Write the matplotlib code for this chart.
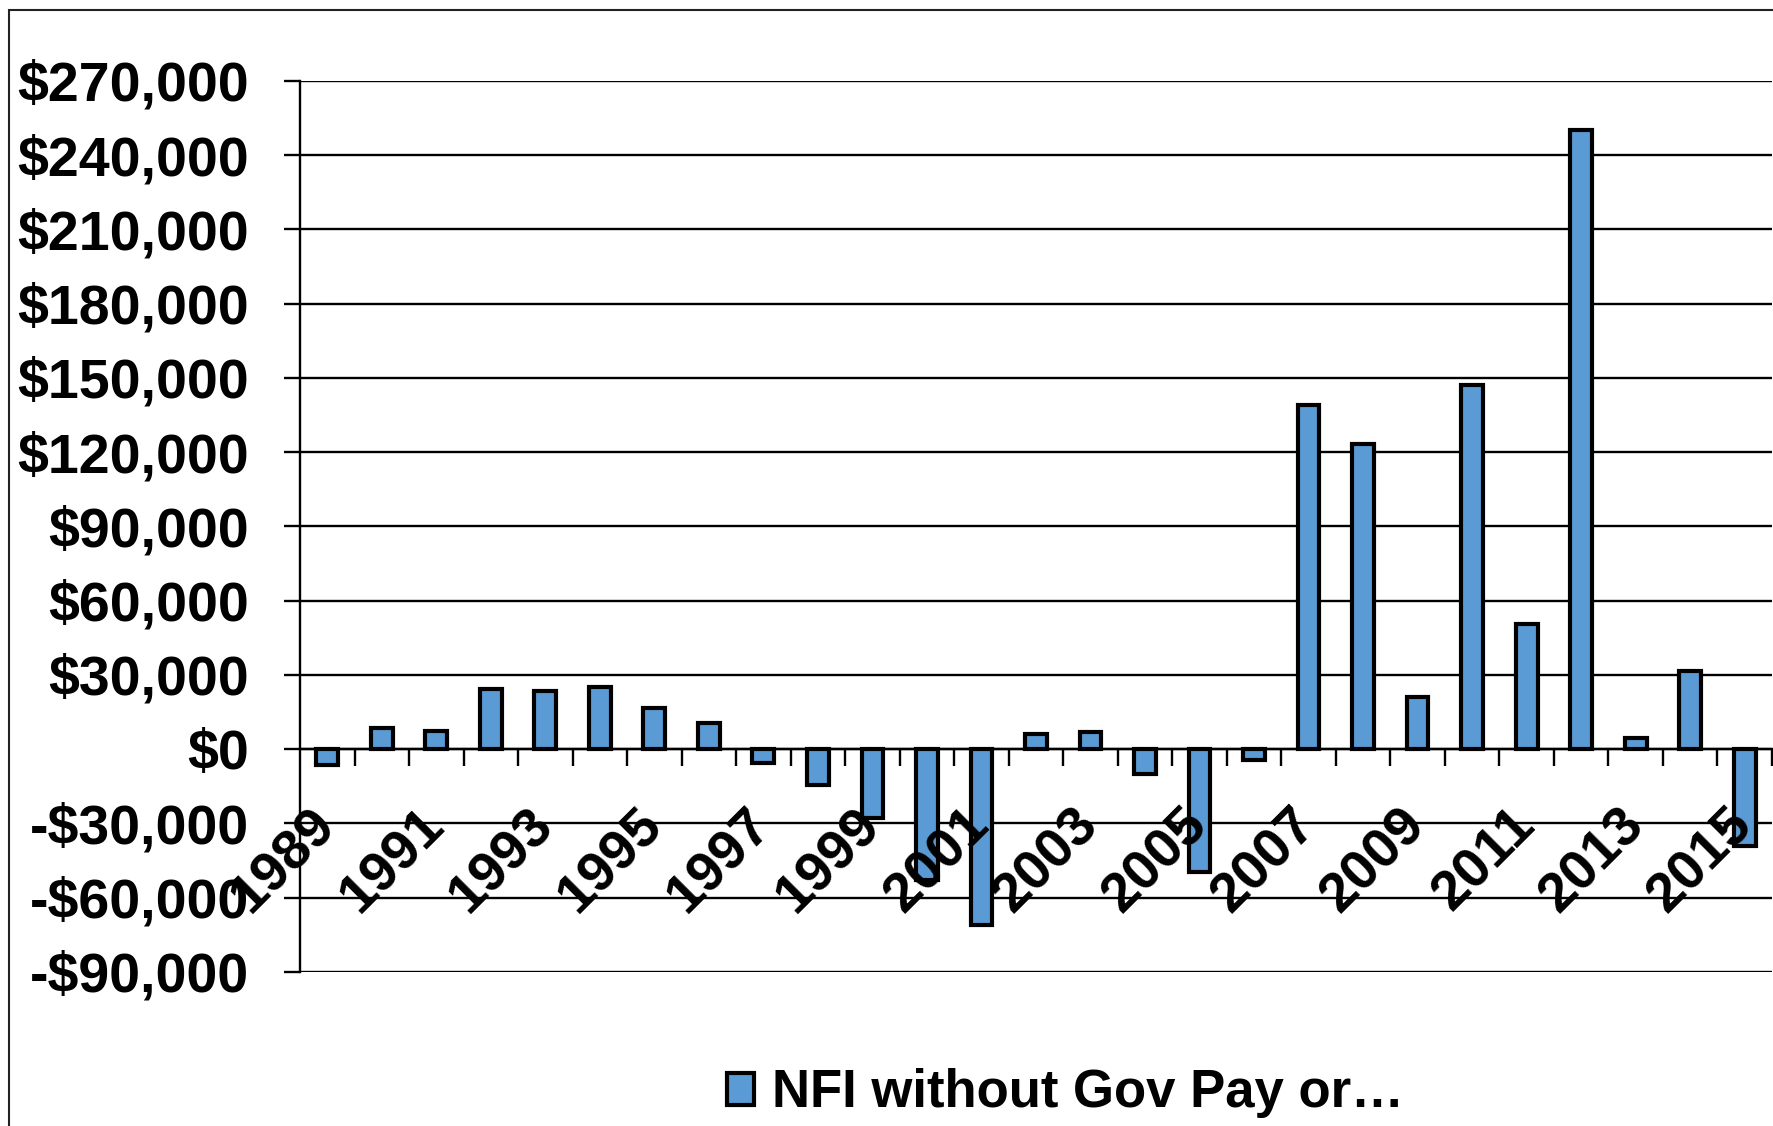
import matplotlib.pyplot as plt
from matplotlib.patches import Rectangle
from matplotlib.ticker import FuncFormatter, FixedLocator

# NFI without government payments, by year
years = list(range(1989, 2016))
values = [-6300, 8700, 7300, 24200, 23400, 25000, 16800, 10500, -5600,
          -14500, -27600, -52800, -70900, 6200, 7000, -10000, -49500, -4200,
          138900, 123300, 20900, 147200, 50500, 250300, 4600, 31500, -39300]
y_ticks = list(range(-90000, 270001, 30000))
series_name = "NFI without Gov Pay or…"

plt.rcParams['font.family'] = ['Liberation Sans', 'DejaVu Sans']
plt.rcParams['font.weight'] = 'bold'

fig = plt.figure(figsize=(17.73, 11.26), dpi=100)
ax = fig.add_axes([0.1692, 0.1368, 0.8302, 0.7913])

# outer chart frame (only top and left edges are inside the image)
fig.patches.append(Rectangle((9 / 1773, -0.1), 1.2, 1.1 - 10 / 1126,
                             transform=fig.transFigure, fill=False,
                             edgecolor='#222222', linewidth=1.5))

x = list(range(len(years)))
bars = ax.bar(x, values, width=0.4, color='#5B9BD5', edgecolor='black',
              linewidth=3, zorder=1, label=series_name)

# horizontal gridlines behind the bars
for v in y_ticks:
    ax.axhline(v, color='black', linewidth=1.7, zorder=0)

ax.set_xlim(-0.5, len(years) - 0.5)
ax.set_ylim(-90000, 270000)

ax.spines['top'].set_visible(False)
ax.spines['right'].set_visible(False)
ax.spines['bottom'].set_position(('data', 0))
ax.spines['left'].set_linewidth(1.7)
ax.spines['bottom'].set_linewidth(1.7)

ax.set_yticks(y_ticks)
ax.yaxis.set_major_formatter(FuncFormatter(
    lambda v, p: f"-${abs(v):,.0f}" if v < 0 else f"${v:,.0f}"))
ax.tick_params(axis='y', length=11.5, width=1.7, pad=25, labelsize=40)

# labels every other year at category centres, tick marks at boundaries
ax.set_xticks(x[::2])
ax.set_xticklabels([str(y) for y in years[::2]])
ax.xaxis.set_minor_locator(FixedLocator([i + 0.5 for i in x]))
ax.tick_params(axis='x', which='major', length=0, pad=49, labelsize=40)
ax.tick_params(axis='x', which='minor', length=12, width=1.7, direction='out')
for lab in ax.get_xticklabels():
    lab.set_rotation(45)
    lab.set_ha('right')
    lab.set_va('center')
    lab.set_rotation_mode('anchor')

ax.legend(loc='center', bbox_to_anchor=(0.601, 0.029),
          bbox_transform=fig.transFigure, frameon=False, fontsize=38,
          handlelength=0.5, handleheight=0.55, handletextpad=0.35)

fig.savefig('out.png', dpi=100)
